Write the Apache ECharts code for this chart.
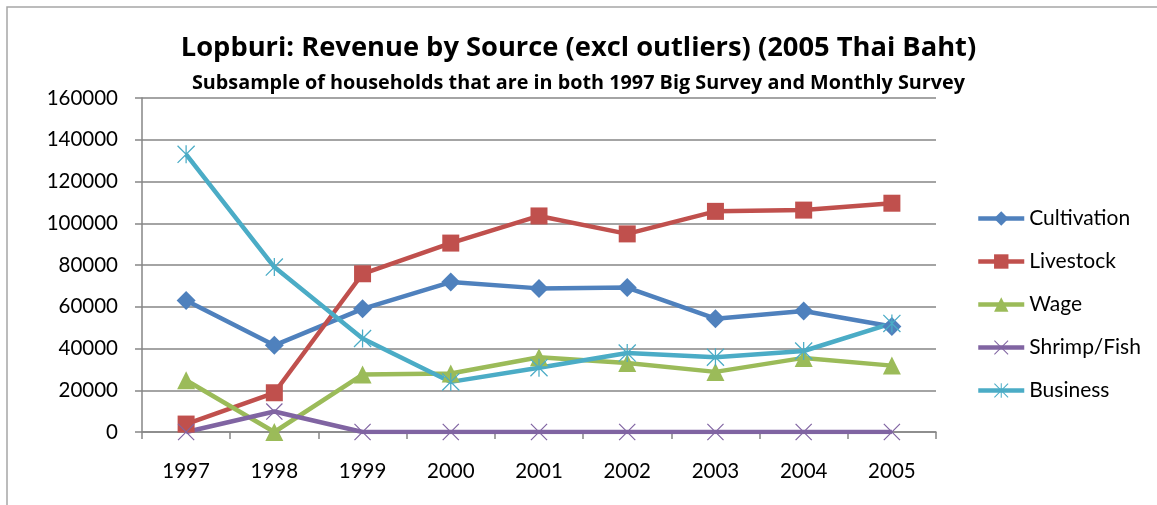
<!DOCTYPE html>
<html>
<head>
<meta charset="utf-8">
<script src="https://cdn.jsdelivr.net/npm/echarts@6/dist/echarts.min.js"></script>
<style>
html,body{margin:0;padding:0;background:#fff;}
#chart{width:1157px;height:505px;}
</style>
</head>
<body>
<div id="chart"></div>
<script>
const titleText = 'Lopburi: Revenue by Source (excl outliers) (2005 Thai Baht)';
const subtitleText = 'Subsample of households that are in both 1997 Big Survey and Monthly Survey';
const years = ['1997','1998','1999','2000','2001','2002','2003','2004','2005'];
const cultivation = [63000, 41500, 59000, 71800, 68800, 69200, 54300, 58000, 50500];
const livestock   = [3800, 18800, 75800, 90500, 103500, 94900, 105700, 106300, 109600];
const wage        = [24800, 0, 27500, 28000, 35800, 33000, 28800, 35500, 31800];
const shrimpFish  = [0, 9800, 0, 0, 0, 0, 0, 0, 0];
const business    = [133000, 79000, 44800, 24000, 30800, 37800, 35800, 38800, 52000];
const yTicks = [0, 20000, 40000, 60000, 80000, 100000, 120000, 140000, 160000];

const FONT = 'Lato, "Open Sans", sans-serif';
const TFONT = '"Open Sans", Lato, sans-serif';
const xPath = 'path://M0,1 L1,0 L20,19 L19,20 Z M19,0 L20,1 L1,20 L0,19 Z';
const starPath = 'path://M0,1 L1,0 L20,19 L19,20 Z M19,0 L20,1 L1,20 L0,19 Z M9.3,0 L10.7,0 L10.7,20 L9.3,20 Z';

function mk(name, data, color, symbol, size) {
  return {
    name: name, type: 'line', data: data,
    symbol: symbol, symbolSize: size, showSymbol: true,
    lineStyle: {color: color, width: 4.5},
    itemStyle: {color: color},
    emphasis: {disabled: true},
    animation: false
  };
}

const chart = echarts.init(document.getElementById('chart'), null, {renderer: 'canvas'});
chart.setOption({
  animation: false,
  backgroundColor: '#fff',
  title: [
    {text: titleText, left: 'center', top: 29.5,
     textStyle: {fontFamily: TFONT, fontWeight: 'bold', fontSize: 27.3, color: '#000'}},
    {text: subtitleText, left: 'center', top: 68.5,
     textStyle: {fontFamily: TFONT, fontWeight: 'bold', fontSize: 19.8, color: '#000'}}
  ],
  graphic: [
    {type: 'rect', shape: {x: 7, y: 7, width: 1300, height: 700},
     style: {fill: 'none', stroke: '#a6a6a6', lineWidth: 1.5}, silent: true}
  ],
  legend: {
    orient: 'vertical', left: 976, top: 208, padding: 0,
    itemWidth: 46, itemHeight: 18, itemGap: 22,
    lineStyle: {width: 4.5},
    textStyle: {fontFamily: FONT, fontSize: 21, color: '#000'},
    data: ['Cultivation','Livestock','Wage','Shrimp/Fish','Business']
  },
  grid: {left: 142, right: 221, top: 98, bottom: 73, containLabel: false},
  xAxis: {
    type: 'category', data: years, boundaryGap: true,
    axisLine: {lineStyle: {color: '#868686', width: 1.5}},
    axisTick: {show: true, length: 7, interval: 0, lineStyle: {color: '#868686', width: 1.5}},
    axisLabel: {margin: 29, fontFamily: FONT, fontSize: 20.5, color: '#000'},
    splitLine: {show: false}
  },
  yAxis: {
    type: 'value', min: yTicks[0], max: yTicks[yTicks.length-1], interval: 20000,
    axisLine: {show: true, lineStyle: {color: '#868686', width: 1.5}},
    axisTick: {show: true, length: 7, lineStyle: {color: '#868686', width: 1.5}},
    axisLabel: {margin: 24, fontFamily: FONT, fontSize: 20.5, color: '#000',
                formatter: function (v) { return String(v); }},
    splitLine: {show: true, lineStyle: {color: '#868686', width: 1.5}}
  },
  series: [
    mk('Cultivation', cultivation, '#4F81BD', 'diamond', 19),
    mk('Livestock', livestock, '#C0504D', 'rect', 17),
    mk('Wage', wage, '#9BBB59', 'triangle', 18),
    mk('Shrimp/Fish', shrimpFish, '#8064A2', xPath, 17),
    mk('Business', business, '#4BACC6', starPath, 18)
  ]
});
</script>
</body>
</html>
